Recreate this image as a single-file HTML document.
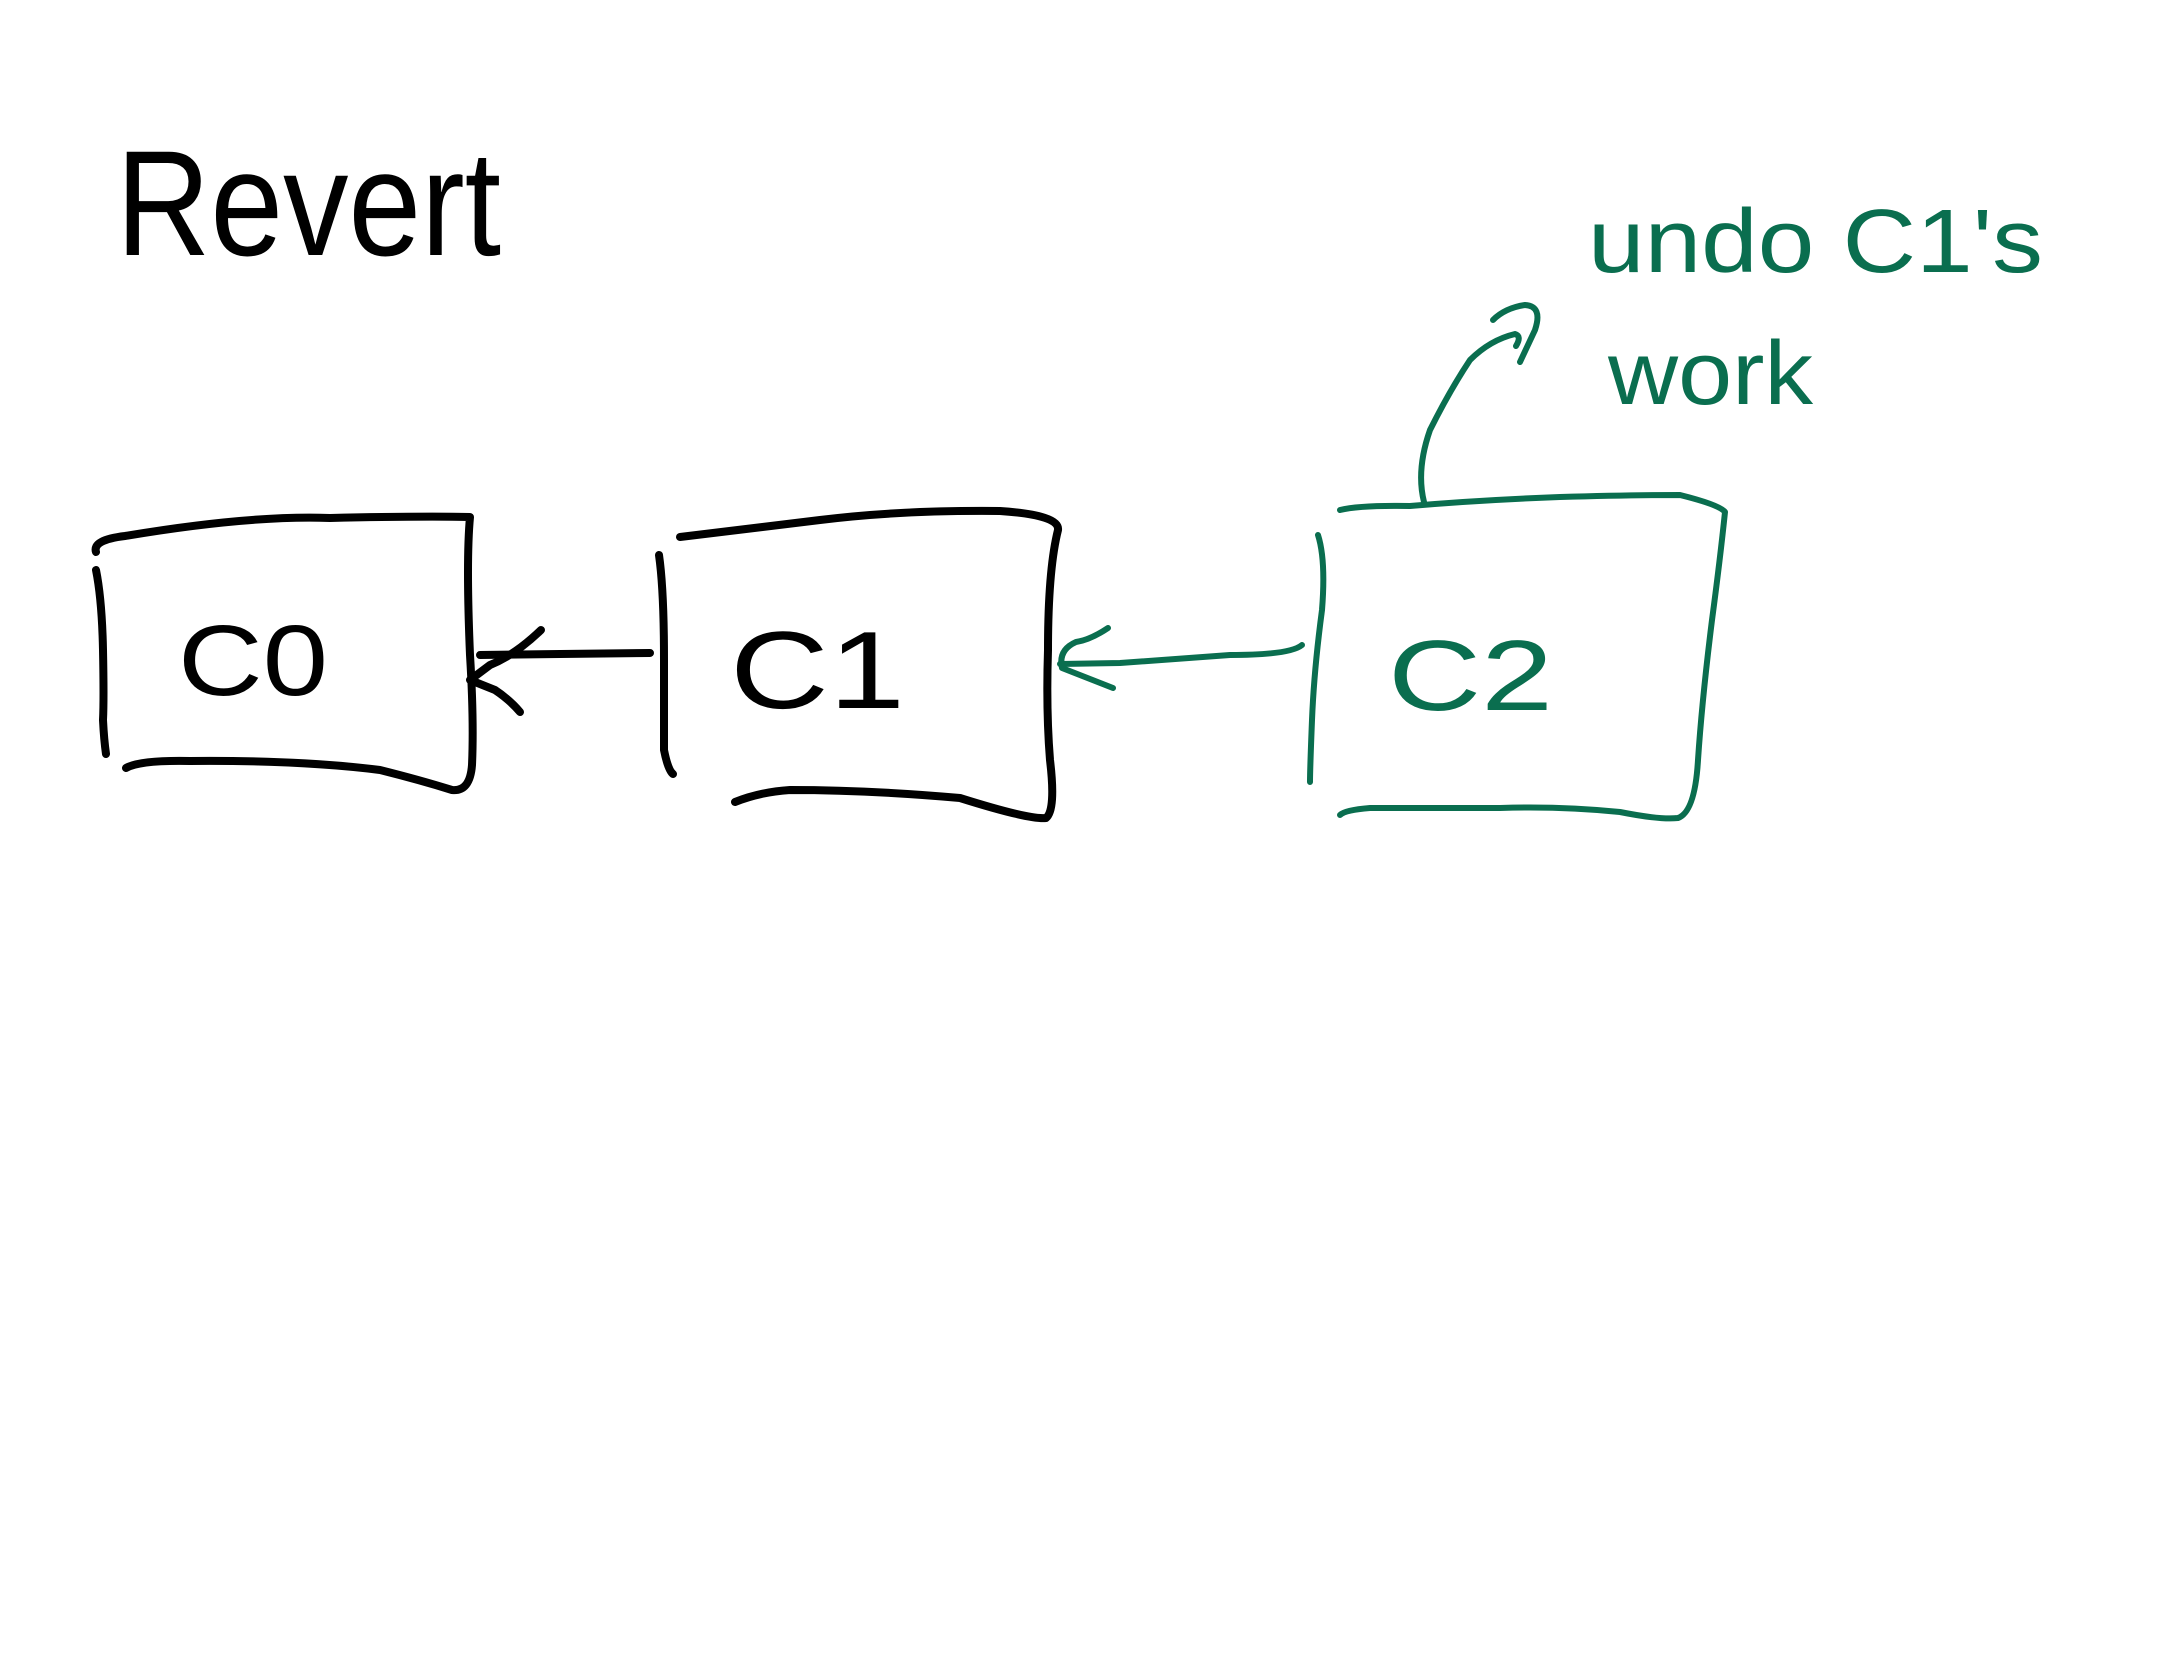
<!DOCTYPE html>
<html><head><meta charset="utf-8"><style>
html,body{margin:0;padding:0;background:#fff;}
svg{display:block;}
text{font-family:"Liberation Sans",sans-serif;}
</style></head><body>
<svg width="2157" height="1668" viewBox="0 0 2157 1668" xmlns="http://www.w3.org/2000/svg">
<rect width="2157" height="1668" fill="#fff"/>
<g fill="none" stroke="#000" stroke-width="8" stroke-linecap="round" stroke-linejoin="round">
<!-- C0 -->
<path d="M96,552 Q92,540 125,536 Q250,515 330,518 Q420,516 470,517 Q466,560 470,655 Q474,720 472,765 Q470,792 452,790 Q420,780 380,770 Q300,760 190,761 Q140,760 126,768"/>
<path d="M96,570 Q102,600 103,650 Q104,700 103,720 Q104,740 106,754"/>
<!-- C1 -->
<path d="M680,537 Q740,530 820,520 Q900,510 1000,511 Q1060,515 1058,530 Q1048,570 1048,650 Q1046,710 1050,760 Q1056,810 1046,818 Q1030,820 960,798 Q870,790 790,790 Q760,792 735,802"/>
<path d="M659,555 Q664,590 664,660 Q664,730 664,750 Q668,770 673,774"/>
<!-- arrow C1->C0 -->
<path d="M650,653 L560,654 L480,655"/>
<path d="M541,630 Q515,655 490,665 L470,680 L495,690 Q510,700 520,712"/>
</g>
<g fill="none" stroke="#0a6e4f" stroke-width="6" stroke-linecap="round" stroke-linejoin="round">
<!-- C2 -->
<path d="M1340,510 Q1360,505 1410,506 Q1480,500 1560,497 Q1630,495 1680,495 Q1720,505 1725,512 Q1720,560 1712,620 Q1702,700 1698,760 Q1695,812 1678,818 Q1660,820 1620,812 Q1560,806 1500,808 Q1420,808 1370,808 Q1345,810 1340,815"/>
<path d="M1318,535 Q1326,560 1322,610 Q1314,670 1312,720 Q1310,770 1310,782"/>
<!-- arrow C2->C1 -->
<path d="M1302,645 Q1290,655 1230,655 Q1160,660 1120,663 L1060,664"/>
<path d="M1108,628 Q1090,640 1076,642 Q1058,650 1062,668 Q1080,675 1113,688"/>
<!-- connector -->
<path d="M1424,502 Q1416,470 1430,430 Q1450,390 1470,360 Q1490,340 1515,334 Q1522,336 1516,346"/>
<path d="M1493,320 Q1505,308 1525,305 Q1543,306 1535,330 L1520,362"/>
</g>
<g fill="#000">
<text x="178" y="695" font-size="100" textLength="150" lengthAdjust="spacingAndGlyphs">C0</text>
<text x="730" y="708" font-size="110" textLength="175" lengthAdjust="spacingAndGlyphs">C1</text>
<text x="116" y="255" font-size="150" textLength="385" lengthAdjust="spacingAndGlyphs">Revert</text>
</g>
<g fill="#0a6e4f">
<text x="1388" y="710" font-size="100" textLength="165" lengthAdjust="spacingAndGlyphs">C2</text>
<text x="1588" y="272" font-size="90" textLength="455" lengthAdjust="spacingAndGlyphs">undo C1's</text>
<text x="1608" y="404" font-size="90" textLength="205" lengthAdjust="spacingAndGlyphs">work</text>
</g>
</svg>
</body></html>
